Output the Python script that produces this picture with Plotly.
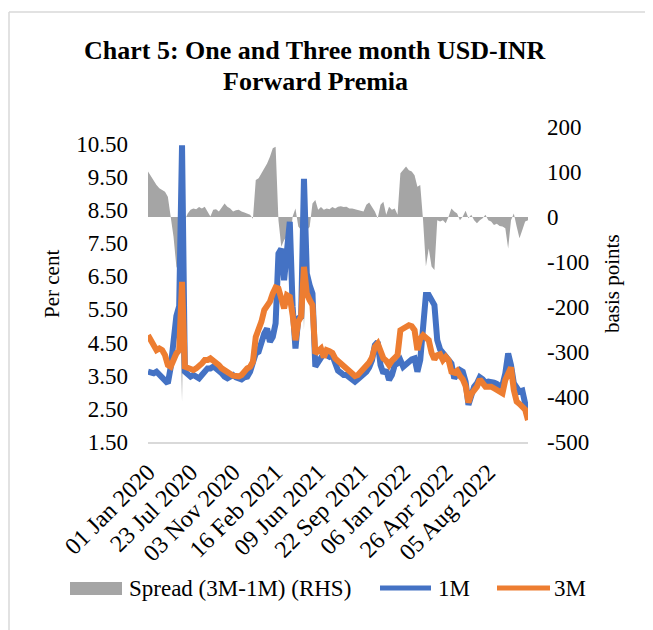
import plotly.graph_objects as go

# ---------------- data ----------------
x_tick_labels = ["01 Jan 2020", "23 Jul 2020", "03 Nov 2020", "16 Feb 2021", "09 Jun 2021",
                 "22 Sep 2021", "06 Jan 2022", "26 Apr 2022", "05 Aug 2022"]
points_per_label = 15

one_m = [3.62, 3.59, 3.57, 3.62, 3.52, 3.42, 3.32, 3.27, 3.75, 4.50,
         5.30, 5.60, 10.45, 3.62, 3.52, 3.47, 3.52, 3.47, 3.42, 3.52,
         3.62, 3.72, 3.72, 3.77, 3.72, 3.67, 3.57, 3.47, 3.42, 3.47,
         3.52, 3.45, 3.40, 3.39, 3.45, 3.47, 3.62, 3.87, 4.17, 4.22,
         4.52, 4.77, 4.92, 4.52, 4.67, 5.08, 7.18, 7.33, 6.38, 7.18,
         8.14, 5.58, 4.32, 5.23, 5.28, 9.44, 6.58, 6.23, 5.98, 3.77,
         3.92, 4.07, 4.17, 4.12, 4.07, 4.12, 3.92, 3.65, 3.59, 3.52,
         3.52, 3.45, 3.39, 3.32, 3.39, 3.45, 3.52, 3.62, 3.75, 3.97,
         4.42, 4.52, 3.82, 3.57, 3.67, 3.37, 3.52, 3.82, 3.87, 3.97,
         3.77, 3.85, 3.89, 3.99, 4.02, 3.62, 3.97, 4.97, 5.93, 5.93,
         5.73, 5.63, 4.57, 4.29, 4.19, 4.07, 4.02, 3.87, 3.42, 3.57,
         3.67, 3.62, 3.32, 2.62, 2.97, 3.17, 3.27, 3.45, 3.39, 3.29,
         3.32, 3.32, 3.29, 3.25, 3.19, 3.22, 3.57, 4.17, 3.82, 3.27,
         3.17, 3.02, 3.05, 2.57, 2.26]

three_m = [4.72, 4.57, 4.42, 4.27, 4.32, 4.27, 4.12, 3.82, 3.77, 4.02,
           4.17, 4.27, 6.33, 3.77, 3.72, 3.72, 3.67, 3.72, 3.77, 3.87,
           3.97, 3.97, 4.02, 3.97, 3.92, 3.82, 3.72, 3.67, 3.57, 3.52,
           3.50, 3.49, 3.48, 3.52, 3.65, 3.72, 3.77, 3.92, 4.67, 4.85,
           5.13, 5.48, 5.63, 5.73, 5.98, 6.16, 6.13, 5.73, 5.53, 5.93,
           5.88, 5.33, 4.57, 5.13, 5.28, 6.78, 5.98, 5.78, 5.63, 4.17,
           4.27, 4.32, 4.05, 4.27, 4.24, 4.19, 4.02, 3.95, 3.87, 3.79,
           3.72, 3.67, 3.59, 3.49, 3.52, 3.62, 3.67, 3.77, 3.90, 4.05,
           4.37, 4.47, 4.17, 4.02, 3.95, 3.82, 3.95, 4.02, 4.12, 4.87,
           4.92, 4.99, 5.02, 4.99, 4.87, 4.27, 4.62, 4.72, 4.67, 4.57,
           4.19, 3.99, 4.12, 4.15, 3.97, 4.07, 3.97, 3.62, 3.59, 3.65,
           3.49, 3.39, 3.19, 2.69, 2.95, 3.05, 3.17, 3.39, 3.27, 3.17,
           3.17, 3.17, 3.12, 3.07, 2.99, 2.97, 3.37, 3.57, 3.75, 3.07,
           2.72, 2.65, 2.57, 2.48, 2.16]

spread_bps = [101, 90, 82, 71, 64, 60, 56, 45, 5, -44,
              -110, -125, -410, -7, 8, 16, 19, 17, 22, 19,
              23, 12, 1, 16, 17, 12, 22, 30, 23, 19,
              12, 15, 16, 12, 10, 8, 5, -4, 82, 86,
              97, 108, 119, 134, 153, 156, -7, -66, -51, -44,
              -58, 1, 19, -21, -29, -250, -29, -22, 30, 38,
              16, 22, 16, 19, 17, 22, 19, 23, 24, 22,
              23, 19, 19, 17, 16, 14, 12, 27, 32, 22,
              12, -3, 27, 34, 5, 23, 16, 19, 5, 97,
              104, 112, 104, 101, 93, 67, 71, -7, -110, -70,
              -110, -118, -7, -10, -7, -14, 1, 19, 12, 8,
              -7, 1, 14, -3, 5, -7, -14, -7, -3, 5,
              -7, -10, -18, -15, -20, -21, -25, -70, -7, 8,
              -21, -47, -29, -10, -7]

left_tick_labels = ["1.50", "2.50", "3.50", "4.50", "5.50", "6.50", "7.50", "8.50", "9.50", "10.50"]
right_tick_labels = ["-500", "-400", "-300", "-200", "-100", "0", "100", "200"]

series_names = ["Spread (3M-1M) (RHS)", "1M", "3M"]
title_lines = ["Chart 5: One and Three month USD-INR", "Forward Premia"]
left_title = "Per cent"
right_title = "basis points"

# ---------------- layout helpers ----------------
OFF = 8                       # page body margin around the figure div
W, H = 653 - OFF, 630 - OFF   # figure size so the page fits the window
PL, PR, PT, PB = 148, 528, 127, 442   # plot area in page pixels


def px(xp):
    return (xp - PL) / (PR - PL)


def py(yp):
    return (PB - yp) / (PB - PT)


FONT = "Liberation Serif"
BLUE = "#4472C4"
ORANGE = "#ED7D31"
GREY = "#A5A5A5"

x_idx = list(range(len(one_m)))
x_tickvals = [i * points_per_label for i in range(len(x_tick_labels))]

fig = go.Figure()

fig.add_trace(go.Scatter(x=x_idx, y=spread_bps, name=series_names[0], yaxis="y",
                         mode="lines", line=dict(width=0, color=GREY),
                         fill="tozeroy", fillcolor=GREY))
fig.add_trace(go.Scatter(x=x_idx, y=one_m, name=series_names[1], yaxis="y2",
                         mode="lines", line=dict(width=6, color=BLUE)))
fig.add_trace(go.Scatter(x=x_idx, y=three_m, name=series_names[2], yaxis="y2",
                         mode="lines", line=dict(width=6, color=ORANGE)))

fig.update_layout(
    width=W, height=H,
    margin=dict(l=PL - OFF, r=W - (PR - OFF), t=PT - OFF, b=H - (PB - OFF), pad=0),
    paper_bgcolor="white", plot_bgcolor="white",
    showlegend=False,
    font=dict(family=FONT, color="black", size=23),
    xaxis=dict(range=[0, len(one_m) - 1], showgrid=False, zeroline=False,
               showline=True, linecolor="#D9D9D9", linewidth=1.5,
               tickmode="array", tickvals=x_tickvals, ticktext=x_tick_labels,
               tickangle=-45, ticks="", tickfont=dict(family=FONT, size=24, color="black"),
               ticklabelstandoff=5),
    yaxis=dict(range=[-500, 200], side="right", showgrid=False, zeroline=False,
               showline=False, tickmode="array",
               tickvals=[float(t) for t in right_tick_labels], ticktext=right_tick_labels,
               ticks="", tickfont=dict(family=FONT, size=23, color="black"),
               ticklabelstandoff=18),
    yaxis2=dict(range=[1.5, 11.0], side="left", overlaying="y", showgrid=False,
                zeroline=False, showline=False, tickmode="array",
                tickvals=[float(t) for t in left_tick_labels], ticktext=left_tick_labels,
                ticks="", tickfont=dict(family=FONT, size=23, color="black"),
                ticklabelstandoff=19),
)

annotations = [
    dict(text="<b>%s</b>" % title_lines[0], x=px(315), y=py(50)),
    dict(text="<b>%s</b>" % title_lines[1], x=px(315), y=py(81)),
]
for a in annotations:
    a.update(xref="paper", yref="paper", xanchor="center", yanchor="middle",
             showarrow=False, font=dict(family=FONT, size=26, color="black"))

annotations += [
    dict(text=left_title, x=px(52), y=py(284), textangle=-90),
    dict(text=right_title, x=px(612), y=py(284), textangle=-90),
]
for a in annotations[2:]:
    a.update(xref="paper", yref="paper", xanchor="center", yanchor="middle",
             showarrow=False, font=dict(family=FONT, size=21, color="black"))

legend_texts = [(series_names[0], 127), (series_names[1], 436), (series_names[2], 552)]
for t, xl in legend_texts:
    annotations.append(dict(text=t, x=px(xl), y=py(588), xref="paper", yref="paper",
                            xanchor="left", yanchor="middle", showarrow=False,
                            font=dict(family=FONT, size=23, color="black")))

shapes = [
    # chart frame (left and top)
    dict(type="line", xref="paper", yref="paper", x0=px(9), x1=px(9), y0=py(12), y1=py(640),
         line=dict(color="#D9D9D9", width=1.5)),
    dict(type="line", xref="paper", yref="paper", x0=px(9), x1=px(660), y0=py(12), y1=py(12),
         line=dict(color="#D9D9D9", width=1.5)),
    # legend symbols
    dict(type="rect", xref="paper", yref="paper", x0=px(70), x1=px(122), y0=py(582), y1=py(595),
         fillcolor=GREY, line=dict(width=0)),
    dict(type="line", xref="paper", yref="paper", x0=px(380), x1=px(431), y0=py(588), y1=py(588),
         line=dict(color=BLUE, width=5)),
    dict(type="line", xref="paper", yref="paper", x0=px(497), x1=px(550), y0=py(588), y1=py(588),
         line=dict(color=ORANGE, width=5)),
]

fig.update_layout(annotations=annotations, shapes=shapes)

fig.write_html("out.html")
